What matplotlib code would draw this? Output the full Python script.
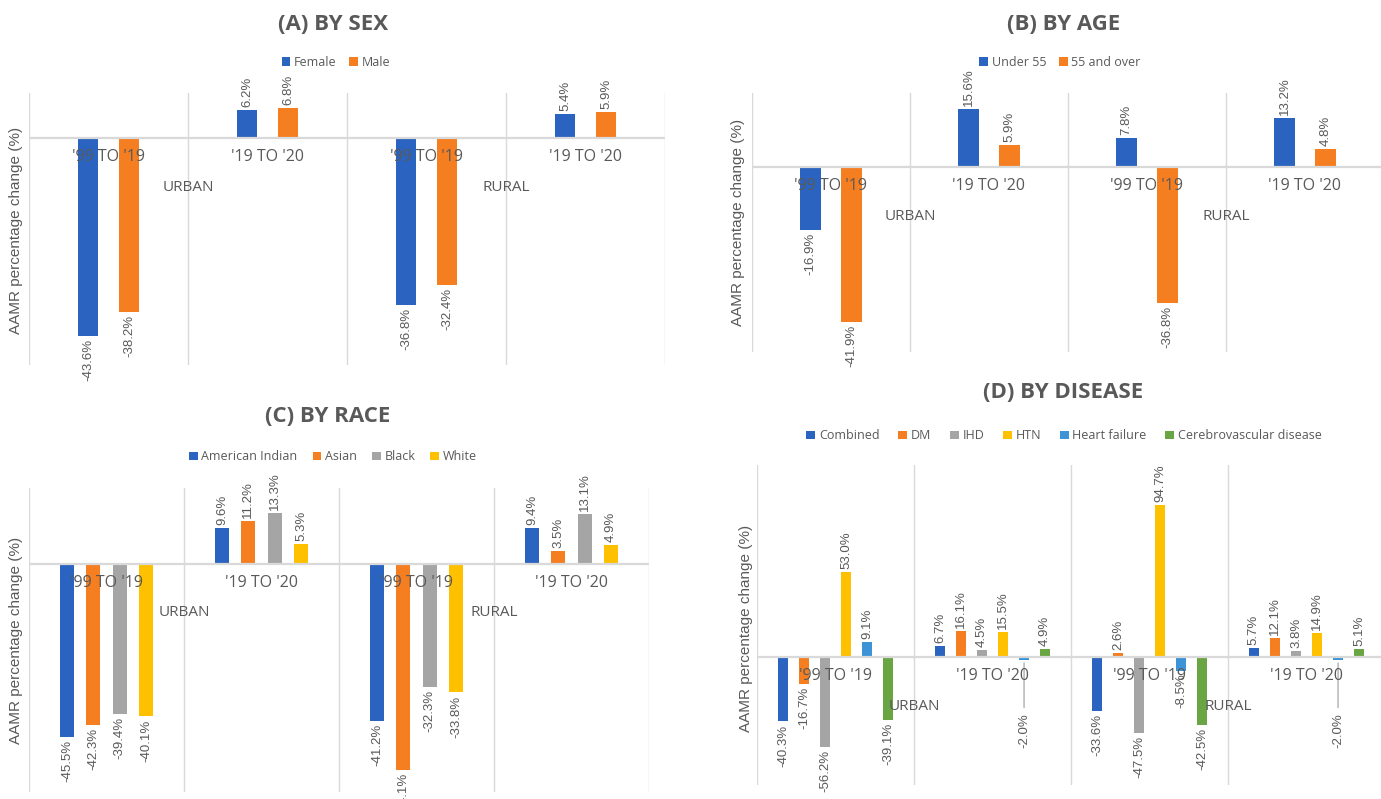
import matplotlib
matplotlib.use("Agg")
import matplotlib.pyplot as plt
from matplotlib.patches import Patch

# region data
categories = ["'99 TO '19", "'19 TO '20", "'99 TO '19", "'19 TO '20"]
groups = ["URBAN", "RURAL"]

sex_names = ["Female", "Male"]
sex_female = [-43.6, 6.2, -36.8, 5.4]
sex_male = [-38.2, 6.8, -32.4, 5.9]

age_names = ["Under 55", "55 and over"]
age_under55 = [-16.9, 15.6, 7.8, 13.2]
age_55over = [-41.9, 5.9, -36.8, 4.8]

race_names = ["American Indian", "Asian", "Black", "White"]
race_amind = [-45.5, 9.6, -41.2, 9.4]
race_asian = [-42.3, 11.2, -54.1, 3.5]
race_black = [-39.4, 13.3, -32.3, 13.1]
race_white = [-40.1, 5.3, -33.8, 4.9]

disease_names = ["Combined", "DM", "IHD", "HTN", "Heart failure",
                 "Cerebrovascular disease"]
dis_combined = [-40.3, 6.7, -33.6, 5.7]
dis_dm = [-16.7, 16.1, 2.6, 12.1]
dis_ihd = [-56.2, 4.5, -47.5, 3.8]
dis_htn = [53.0, 15.5, 94.7, 14.9]
dis_hf = [9.1, -2.0, -8.5, -2.0]
dis_cvd = [-39.1, 4.9, -42.5, 5.1]
# endregion

W, H = 1381, 799
BLUE = '#2B64C0'
ORANGE = '#F47E20'
GREY = '#A5A5A5'
GOLD = '#FFC000'
LBLUE = '#3C93D6'
GREEN = '#69A543'
TXT = '#595959'
GRID = '#D9D9D9'

LABEL_FONT = ['Liberation Sans', 'DejaVu Sans']
CAT_FONT = ['Open Sans', 'DejaVu Sans']

fig = plt.figure(figsize=(W / 100, H / 100), dpi=100)


def px(x, y):
    return x / W, 1 - y / H


def draw_panel(left, right, top, bottom, ylim, series, names, colors,
               width, step, title, title_xy, legend_xy, ylab_xy,
               colspace=1.0, shifts=None):
    """draw one clustered bar panel, positions given in figure pixels"""
    shifts = shifts or {}
    ax = fig.add_axes([left / W, 1 - bottom / H, (right - left) / W,
                       (bottom - top) / H])
    ax.set_xlim(-0.5, len(categories) - 0.5)
    ax.set_ylim(*ylim)
    ax.axis('off')
    # vertical separators
    for b in range(len(categories) + 1):
        ax.axvline(b - 0.5, color=GRID, lw=1, zorder=0)
    ax.axhline(0, color=GRID, lw=1.6, zorder=3)

    n = len(series)
    for k, (vals, col) in enumerate(zip(series, colors)):
        off = (k - (n - 1) / 2) * step
        xs = [i + off for i in range(len(vals))]
        ax.bar(xs, vals, width=width, color=col, zorder=2)
        for i, (x, v) in enumerate(zip(xs, vals)):
            sh = shifts.get((k, i), 0)
            d = 3 + sh
            kw = {}
            if sh:
                kw['arrowprops'] = dict(arrowstyle='-', color='#A6A6A6',
                                        lw=0.9, shrinkA=2, shrinkB=2)
            ax.annotate(f"{v:.1f}%", xy=(x, v), xycoords='data',
                        xytext=(0, d if v >= 0 else -d),
                        textcoords='offset pixels', rotation=90,
                        ha='center', va='bottom' if v >= 0 else 'top',
                        fontsize=9.5, color=TXT, family=LABEL_FONT,
                        annotation_clip=False, **kw)

    # category labels and group labels
    for i, c in enumerate(categories):
        ax.annotate(c, xy=(i, 0), xytext=(0, -19), textcoords='offset pixels',
                    ha='center', va='center', fontsize=11.5, color=TXT,
                    family=CAT_FONT)
    for g, name in enumerate(groups):
        ax.annotate(name, xy=(2 * g + 0.5, 0), xytext=(0, -49),
                    textcoords='offset pixels', ha='center', va='center',
                    fontsize=11, color=TXT, family=CAT_FONT)

    fig.text(*px(*title_xy), title, ha='center', va='center', fontsize=16,
             fontweight='bold', color=TXT, family=CAT_FONT)
    fig.text(*px(*ylab_xy), "AAMR percentage change (%)", rotation=90,
             ha='center', va='center', fontsize=11, color=TXT,
             family=LABEL_FONT)
    handles = [Patch(facecolor=c, label=nm) for c, nm in zip(colors, names)]
    leg = fig.legend(handles=handles, loc='center', ncol=len(handles),
                     bbox_to_anchor=px(*legend_xy), frameon=False,
                     handlelength=0.7, handleheight=0.7, handletextpad=0.3,
                     columnspacing=colspace, borderpad=0,
                     prop={'family': CAT_FONT, 'size': 9})
    for t in leg.get_texts():
        t.set_color(TXT)
    return ax


draw_panel(29, 665, 93, 365, (-50, 10), [sex_female, sex_male], sex_names,
           [BLUE, ORANGE], 0.13, 0.258, "(A) BY SEX", (333, 24), (336, 62),
           (16, 230))
draw_panel(752, 1384, 93, 352, (-50, 20), [age_under55, age_55over],
           age_names, [BLUE, ORANGE], 0.133, 0.26, "(B) BY AGE", (1064, 24),
           (1060, 62), (738, 222))
draw_panel(29, 649, 488, 792, (-60, 20),
           [race_amind, race_asian, race_black, race_white], race_names,
           [BLUE, ORANGE, GREY, GOLD], 0.09, 0.17, "(C) BY RACE", (328, 416),
           (333, 457), (16, 640), colspace=1.2)
draw_panel(757, 1385, 465, 785, (-80, 120),
           [dis_combined, dis_dm, dis_ihd, dis_htn, dis_hf, dis_cvd],
           disease_names, [BLUE, ORANGE, GREY, GOLD, LBLUE, GREEN], 0.068,
           0.134, "(D) BY DISEASE", (1063, 393), (1064, 436), (746, 628),
           colspace=1.5, shifts={(4, 1): 50, (4, 3): 50})

fig.savefig("out.png", dpi=100)
